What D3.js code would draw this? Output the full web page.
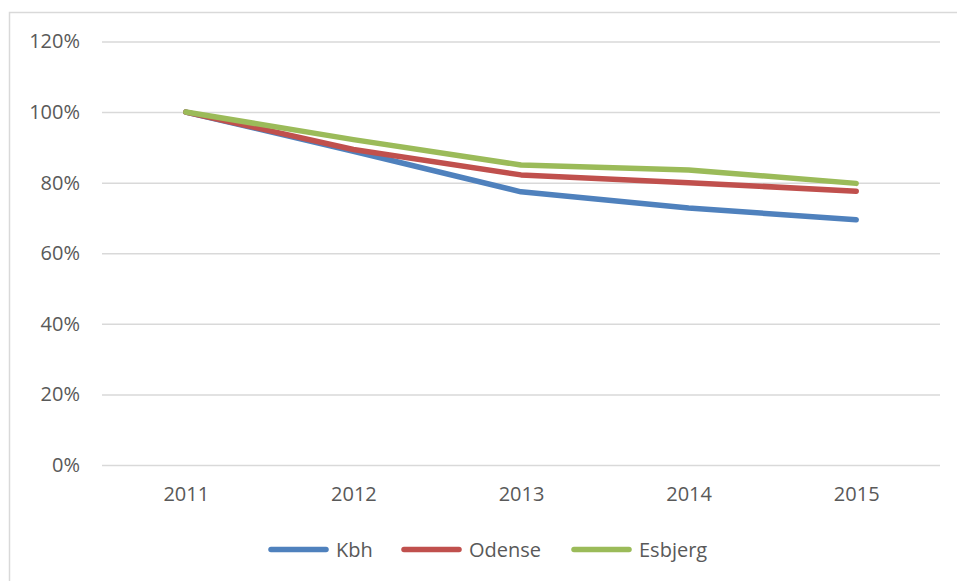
<!DOCTYPE html>
<html>
<head>
<meta charset="utf-8">
<script src="https://cdn.jsdelivr.net/npm/d3@7"></script>
<style>
  html, body { margin: 0; padding: 0; background: #ffffff; }
  svg { display: block; }
  text { font-family: "Open Sans", "Liberation Sans", sans-serif; fill: #595959; }
</style>
</head>
<body>
<svg id="chart" width="957" height="581"></svg>
<script>
const categories = ["2011", "2012", "2013", "2014", "2015"];
const seriesNames = ["Kbh", "Odense", "Esbjerg"];
const kbh = [1.00, 0.889, 0.774, 0.728, 0.695];
const odense = [1.00, 0.894, 0.822, 0.800, 0.776];
const esbjerg = [1.00, 0.922, 0.850, 0.836, 0.798];
const seriesColors = ["#4f81bd", "#c0504d", "#9bbb59"];
const yTicks = [0, 0.2, 0.4, 0.6, 0.8, 1.0, 1.2];

const seriesValues = [kbh, odense, esbjerg];

const svg = d3.select("#chart");
const W = 957, H = 581;

// outer chart frame (only top and left edges visible)
svg.append("path")
  .attr("d", `M9.5,${H + 2} V12.5 H${W + 2}`)
  .attr("fill", "none")
  .attr("stroke", "#d9d9d9")
  .attr("stroke-width", 1.5);

const plot = { left: 102, right: 940, top: 41.5, bottom: 465 };

const x = d3.scalePoint()
  .domain(categories)
  .range([plot.left, plot.right])
  .padding(0.5);

const y = d3.scaleLinear()
  .domain([0, 1.2])
  .range([plot.bottom, plot.top]);

// gridlines
const yAxis = d3.axisLeft(y)
  .tickValues(yTicks)
  .tickSize(-(plot.right - plot.left))
  .tickPadding(22)
  .tickFormat(d3.format(".0%"));

const gY = svg.append("g")
  .attr("transform", `translate(${plot.left},0)`)
  .call(yAxis);
gY.select(".domain").remove();
gY.selectAll(".tick line")
  .attr("stroke", "#d9d9d9")
  .attr("stroke-width", 1.5);
gY.selectAll(".tick text")
  .attr("font-size", 20)
  .attr("fill", "#595959")
  .style("font-family", "'Open Sans', 'Liberation Sans', sans-serif");

// x axis labels
const xAxis = d3.axisBottom(x).tickSize(0).tickPadding(22);
const gX = svg.append("g")
  .attr("transform", `translate(0,${plot.bottom})`)
  .call(xAxis);
gX.select(".domain").remove();
gX.selectAll(".tick text")
  .attr("font-size", 20)
  .attr("fill", "#595959")
  .style("font-family", "'Open Sans', 'Liberation Sans', sans-serif");

// lines
const line = d3.line()
  .x((d, i) => x(categories[i]))
  .y(d => y(d));

seriesValues.forEach((vals, si) => {
  svg.append("path")
    .datum(vals)
    .attr("d", line)
    .attr("fill", "none")
    .attr("stroke", seriesColors[si])
    .attr("stroke-width", 5.5)
    .attr("stroke-linecap", "round")
    .attr("stroke-linejoin", "round");
});

// legend
const legendY = 549.5;
const legendX = [271, 404, 574];
const legend = svg.append("g");
seriesNames.forEach((name, i) => {
  const g = legend.append("g").attr("transform", `translate(${legendX[i]},${legendY})`);
  g.append("line")
    .attr("x1", 0).attr("x2", 55)
    .attr("y1", 0).attr("y2", 0)
    .attr("stroke", seriesColors[i])
    .attr("stroke-width", 5.5)
    .attr("stroke-linecap", "round");
  g.append("text")
    .attr("x", 65)
    .attr("y", 0)
    .attr("dy", "0.35em")
    .attr("font-size", 20)
    .text(name);
});
</script>
</body>
</html>
